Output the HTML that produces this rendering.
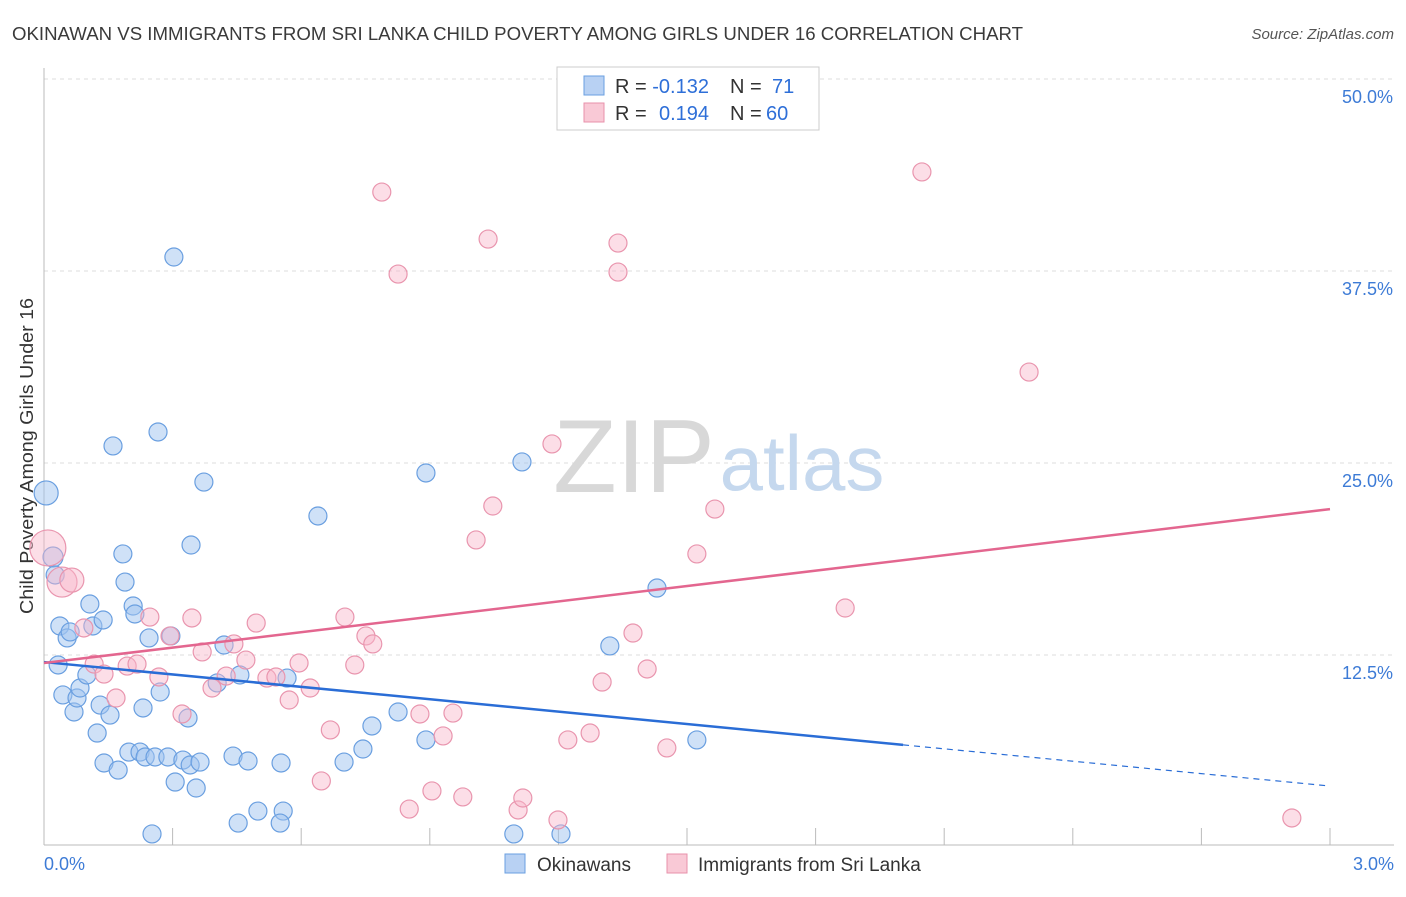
<!DOCTYPE html>
<html><head><meta charset="utf-8">
<style>
body{margin:0;background:#fff;font-family:"Liberation Sans",sans-serif;}
svg text{font-family:"Liberation Sans",sans-serif;}
</style></head>
<body>
<svg id="chart" width="1406" height="892" viewBox="0 0 1406 892" xmlns="http://www.w3.org/2000/svg">
<text x="12" y="40" font-size="18" fill="#3a3a3a" textLength="1011" lengthAdjust="spacingAndGlyphs">OKINAWAN VS IMMIGRANTS FROM SRI LANKA CHILD POVERTY AMONG GIRLS UNDER 16 CORRELATION CHART</text>
<text x="1394" y="39" font-size="15" fill="#555" text-anchor="end" font-style="italic">Source: ZipAtlas.com</text>
<text transform="translate(33,456) rotate(-90)" font-size="18" fill="#333" text-anchor="middle" textLength="316" lengthAdjust="spacingAndGlyphs">Child Poverty Among Girls Under 16</text>
<g id="grid"></g>
<g id="watermark">
<text x="634" y="492" font-size="104" fill="#d8d8d8" text-anchor="middle" font-family="Liberation Serif">ZIP</text>
<text x="802" y="490" font-size="78" fill="#c5d8ee" text-anchor="middle">atlas</text>
</g>
<g id="axes"></g>
<g id="pts"></g>
<g id="trends"></g>
<g>
<rect x="557" y="67" width="262" height="63" fill="#fff" stroke="#ccc"/>
<rect x="584" y="76" width="20" height="19" fill="#b8d1f3" stroke="#6a9fe0"/>
<rect x="584" y="103" width="20" height="19" fill="#f9c9d6" stroke="#e891ab"/>
<text x="615" y="93" font-size="20" fill="#333">R = <tspan fill="#2e6fd8">-0.132</tspan><tspan x="730">N = </tspan><tspan x="772" fill="#2e6fd8">71</tspan></text>
<text x="615" y="120" font-size="20" fill="#333">R = <tspan x="659" fill="#2e6fd8">0.194</tspan><tspan x="730">N = </tspan><tspan x="766" fill="#2e6fd8">60</tspan></text>
</g>
<g>
<rect x="505" y="854" width="20" height="19" fill="#b8d1f3" stroke="#6a9fe0"/>
<text x="537" y="871" font-size="19" fill="#333">Okinawans</text>
<rect x="667" y="854" width="20" height="19" fill="#f9c9d6" stroke="#e891ab"/>
<text x="698" y="871" font-size="19" fill="#333">Immigrants from Sri Lanka</text>
</g>
</svg>
<script>
const yTicks=[12.5,25,37.5,50];
const yTickLabels=["12.5%","25.0%","37.5%","50.0%"];
const xTickLabels=["0.0%","3.0%"];
const blueX=[0.005,0.021,0.026,0.033,0.037,0.054,0.061,0.044,0.07,0.077,0.084,0.1,0.107,0.114,0.138,0.124,0.131,0.154,0.14,0.173,0.161,0.184,0.189,0.208,0.212,0.245,0.231,0.266,0.271,0.198,0.224,0.236,0.259,0.289,0.306,0.324,0.341,0.355,0.364,0.296,0.303,0.336,0.343,0.373,0.252,0.404,0.42,0.457,0.441,0.453,0.476,0.499,0.553,0.558,0.551,0.567,0.639,0.7,0.744,0.765,0.826,0.891,0.891,1.096,1.115,1.206,1.32,1.43,1.523];
const blueY=[23.05,18.88,17.71,11.85,14.39,13.61,14.0,9.9,8.79,9.7,10.35,11.2,15.82,14.39,14.78,7.42,9.24,8.59,5.47,5.01,26.11,19.08,17.25,15.69,15.17,13.61,9.05,27.02,10.09,6.18,6.18,5.86,5.86,5.86,4.23,5.66,5.34,3.84,5.53,13.74,38.41,8.4,19.66,23.76,0.85,10.68,13.15,11.2,5.92,1.56,5.6,2.34,5.47,2.34,1.56,11.0,21.55,5.53,6.38,7.88,8.79,6.97,24.35,0.85,25.07,0.85,13.09,16.86,6.97];
const blueR=[12,10];
const pinkX=[0.009,0.042,0.065,0.093,0.117,0.14,0.194,0.217,0.168,0.247,0.268,0.294,0.322,0.345,0.369,0.392,0.425,0.443,0.471,0.495,0.52,0.541,0.595,0.621,0.572,0.647,0.668,0.702,0.725,0.751,0.767,0.788,0.826,0.852,0.877,0.905,0.931,0.954,0.977,1.008,1.036,1.047,1.106,1.117,1.185,1.199,1.222,1.274,1.302,1.339,1.339,1.374,1.407,1.453,1.523,1.565,1.869,2.048,2.298,2.911];
const pinkY=[19.47,17.25,17.38,14.26,11.91,11.26,11.78,11.91,9.7,14.97,11.07,13.74,8.66,14.91,12.7,10.35,11.13,13.22,12.17,14.58,11.0,11.07,11.98,10.35,9.57,4.3,7.62,14.97,11.85,13.74,13.22,42.64,37.3,2.47,8.66,3.65,7.23,8.72,3.26,19.99,39.58,22.2,2.41,3.19,26.24,1.76,6.97,7.42,10.74,39.32,37.43,13.93,11.59,6.45,19.08,22.0,15.56,43.95,30.92,1.89];
const pinkR=[18,15,12];
const blueTrend=[12.04,3.97];
const blueSolidEnd=2.004;
const pinkTrend=[11.98,22.0];

const NS="http://www.w3.org/2000/svg";
const X=v=>44+v/3*1286;
const Y=v=>847-v/12.5*192;
function mk(t,a,p){const e=document.createElementNS(NS,t);for(const k in a)e.setAttribute(k,a[k]);p.appendChild(e);return e;}
const grid=document.getElementById('grid'),axes=document.getElementById('axes'),pts=document.getElementById('pts'),tr=document.getElementById('trends');
yTicks.forEach((t,i)=>{
 const l=mk('line',{x1:44,x2:1394,y1:Y(t),y2:Y(t),stroke:'#ddd','stroke-dasharray':'4,4'},grid);
 
 
 const tx=mk('text',{x:1393,y:Y(t)+24,'font-size':18,fill:'#3d7bd6','text-anchor':'end'},axes);
 tx.textContent=yTickLabels[i];
 
 
});
mk('line',{x1:44,x2:44,y1:68,y2:845,stroke:'#bbb'},axes);
mk('line',{x1:44,x2:1394,y1:845,y2:845,stroke:'#bbb'},axes);
for(let i=1;i<=10;i++){const x=44+i*128.6;mk('line',{x1:x,x2:x,y1:828,y2:845,stroke:'#bbb'},axes);}
[0,3].forEach((v,i)=>{const tx=mk('text',{x:i?1394:44,y:870,'font-size':18,fill:'#3d7bd6','text-anchor':i?'end':'start'},axes);tx.textContent=xTickLabels[i];
 
 });
blueX.forEach((v,i)=>{const r=i<blueR.length?blueR[i]:9;
 const c=mk('circle',{cx:X(v),cy:Y(blueY[i]),r:r,fill:'rgba(160,196,240,0.5)',stroke:'#6a9fe0','stroke-width':1.2},pts);
 
 });
pinkX.forEach((v,i)=>{const r=i<pinkR.length?pinkR[i]:9;
 const c=mk('circle',{cx:X(v),cy:Y(pinkY[i]),r:r,fill:'rgba(248,182,202,0.45)',stroke:'#e995ae','stroke-width':1.2},pts);
 
 });
const by=x=>blueTrend[0]+(blueTrend[1]-blueTrend[0])*x/3;
const b1=mk('line',{x1:X(0),y1:Y(by(0)),x2:X(blueSolidEnd),y2:Y(by(blueSolidEnd)),stroke:'#2a6dd6','stroke-width':2.5},tr);


const b2=mk('line',{x1:X(blueSolidEnd),y1:Y(by(blueSolidEnd)),x2:X(3),y2:Y(by(3)),stroke:'#2a6dd6','stroke-width':1.2,'stroke-dasharray':'6,5'},tr);


const p1=mk('line',{x1:X(0),y1:Y(pinkTrend[0]),x2:X(3),y2:Y(pinkTrend[1]),stroke:'#e3668f','stroke-width':2.5},tr);


</script>
</body></html>
